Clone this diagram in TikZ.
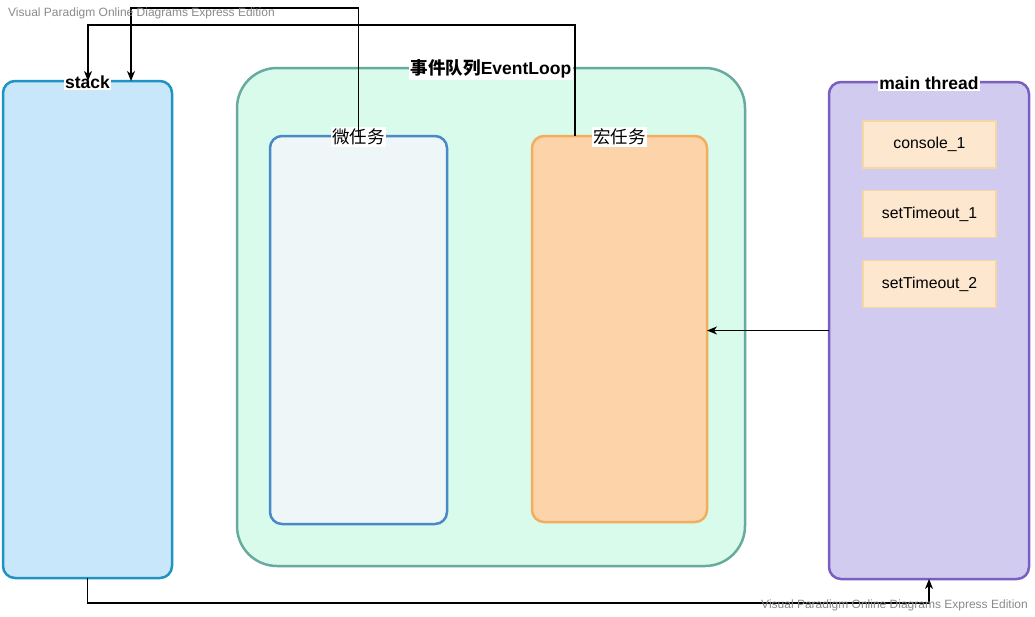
\documentclass[tikz,border=0pt]{standalone}
\usepackage{fontspec}
\setmainfont{Liberation Sans}
\newfontfamily\cjk{Noto Sans CJK SC}
\usetikzlibrary{arrows.meta}
\definecolor{stackfill}{HTML}{C9E7FB}
\definecolor{stackline}{HTML}{1F93C2}
\definecolor{evfill}{HTML}{D9FBEC}
\definecolor{evline}{HTML}{67AB9F}
\definecolor{mifill}{HTML}{EEF6F8}
\definecolor{miline}{HTML}{4A89C8}
\definecolor{mafill}{HTML}{FDD4AA}
\definecolor{maline}{HTML}{F2AE5E}
\definecolor{mtfill}{HTML}{D0CBEF}
\definecolor{mtline}{HTML}{7A5FC0}
\definecolor{itfill}{HTML}{FDE7CF}
\definecolor{itline}{HTML}{F7D6A6}
\definecolor{wm}{HTML}{8A8A8A}
\tikzset{
  panel/.style={draw, line width=2.5pt, rounded corners=12pt, inner sep=0pt, outer sep=0pt},
  item/.style={draw=itline, fill=itfill, line width=1.5pt, minimum width=133pt, minimum height=47pt, inner sep=0pt, font=\fontsize{15.8}{18}\selectfont},
  title/.style={fill=white, inner sep=1.5pt, font=\fontsize{17.5}{20}\selectfont\bfseries},
  cjktitle/.style={fill=white, inner sep=1.5pt, font=\fontsize{17.5}{20}\selectfont\cjk},
  conn/.style={draw=black, line width=1.2pt},
  arr/.style={conn, -{Stealth[length=10pt,width=8pt,inset=3pt]}},
  watermark/.style={text=wm, inner sep=0pt, font=\fontsize{12}{14}\selectfont}
}
\begin{document}
\begin{tikzpicture}[x=1pt,y=-1pt]
\useasboundingbox (0,0) rectangle (1035,616);
% containers
\node[panel, draw=evline, fill=evfill, rounded corners=40pt, minimum width=508pt, minimum height=498pt] (ev) at (491,317) {};
\node[panel, draw=stackline, fill=stackfill, minimum width=169pt, minimum height=497pt] (stack) at (87.5,329.5) {};
\node[panel, draw=miline, fill=mifill, minimum width=177pt, minimum height=388pt] (micro) at (358.5,330) {};
\node[panel, draw=maline, fill=mafill, minimum width=175pt, minimum height=386pt] (macro) at (619.5,329) {};
\node[panel, draw=mtline, fill=mtfill, minimum width=200pt, minimum height=497pt] (main) at (929,330.5) {};
% items
\node[item] (c1) at (929.5,144.5) {console\_1};
\node[item] (s1) at (929.5,214) {setTimeout\_1};
\node[item] (s2) at (929.5,284) {setTimeout\_2};
% titles
\node[title] (tstack) at ([yshift=-1pt]stack.north) {stack};
\node[title] (tmain) at ([yshift=-1pt]main.north) {main thread};
\node[title] (tev) at ([yshift=-1pt]ev.north) {{\cjk\bfseries 事件队列}EventLoop};
\node[cjktitle] (tmi) at ([yshift=-1pt]micro.north) {微任务};
\node[cjktitle] (tma) at ([yshift=-1pt]macro.north) {宏任务};
% connectors
\coordinate (topA) at (0,25);
\coordinate (topB) at (0,8);
\coordinate (bot) at (0,603);
\coordinate (ma) at ([xshift=43pt]macro.north west);
\coordinate (sa) at ([xshift=85pt]stack.north west);
\coordinate (sb) at ([xshift=128pt]stack.north west);
\draw[arr] (ma) -- (ma |- topA) -- (sa |- topA) -- (sa);
\draw[arr] (micro.north) -- (micro.north |- topB) -- (sb |- topB) -- (sb);
\draw[arr] (main.west) -- (main.west -| macro.east);
\draw[arr] (stack.south) -- (stack.south |- bot) -- (main.south |- bot) -- (main.south);
% watermarks
\node[watermark, anchor=west] (wm1) at (8,13) {Visual Paradigm Online Diagrams Express Edition};
\node[watermark, anchor=east] (wm2) at (1028,605) {Visual Paradigm Online Diagrams Express Edition};
\end{tikzpicture}
\end{document}
